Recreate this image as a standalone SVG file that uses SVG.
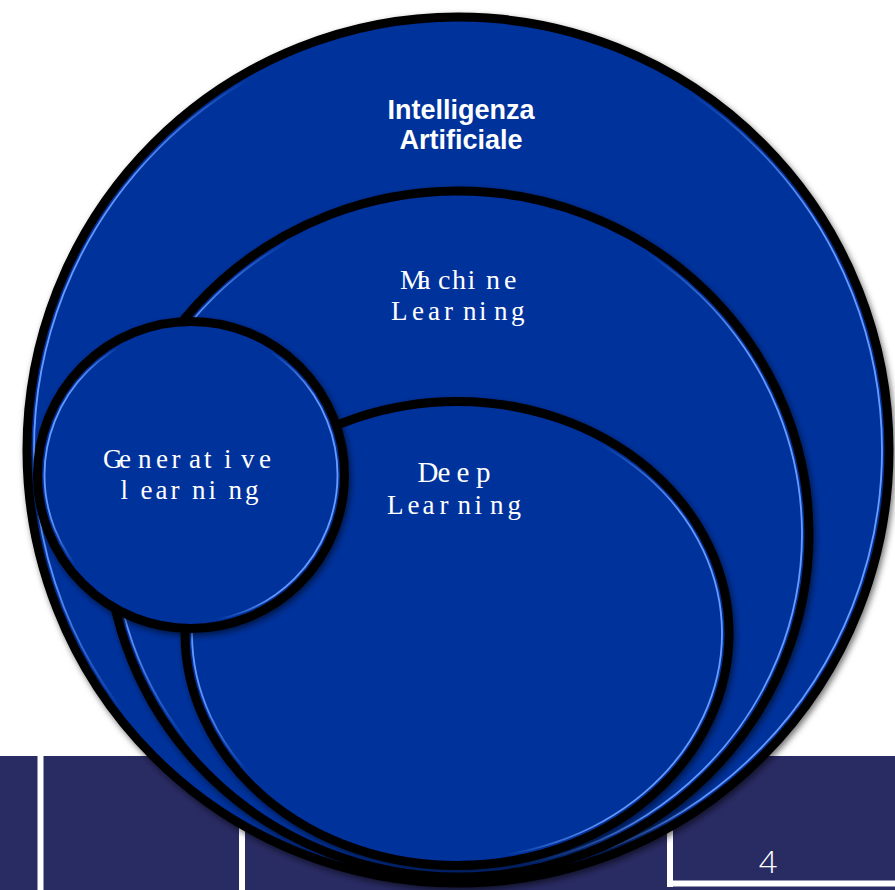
<svg xmlns="http://www.w3.org/2000/svg" width="895" height="890" viewBox="0 0 895 890">
<defs>
<filter id="shadow" x="-10%" y="-10%" width="120%" height="120%">
<feDropShadow dx="2" dy="3" stdDeviation="3" flood-color="#000" flood-opacity="0.55"/>
</filter>
<linearGradient id="hl" x1="0" y1="0.4" x2="1" y2="0.6">
<stop offset="0" stop-color="#6a9bff" stop-opacity="1"/>
<stop offset="0.07" stop-color="#6a9bff" stop-opacity="0.9"/>
<stop offset="0.18" stop-color="#6a9bff" stop-opacity="0"/>
<stop offset="0.68" stop-color="#6a9bff" stop-opacity="0"/>
<stop offset="0.85" stop-color="#6a9bff" stop-opacity="0.95"/>
<stop offset="1" stop-color="#6a9bff" stop-opacity="1"/>
</linearGradient>
</defs>
<style>
.shape{fill:#01309c;stroke:#000;stroke-width:9;filter:url(#shadow)}
.hl{fill:none;stroke:url(#hl);stroke-width:1.8}
.ser{font-family:"Liberation Serif","Times New Roman",serif;fill:#fff}
.sans{font-family:"Liberation Sans",Arial,sans-serif;fill:#fff;font-weight:bold;font-size:27px;text-anchor:middle}
.band{fill:#292b63}
.wl{fill:#fff}
</style>
<g id="background">
<rect x="0" y="0" width="895" height="890" fill="#fff"/>
<rect class="band" x="0" y="756" width="895" height="134"/>
<rect class="wl" x="37.5" y="756" width="6" height="134"/>
<rect class="wl" x="239" y="756" width="6" height="134"/>
<rect class="wl" x="667" y="800" width="6" height="87"/>
<rect class="wl" x="667" y="880.5" width="228" height="6"/>
<text x="768" y="873" font-family="'Open Sans','Liberation Sans',sans-serif" font-weight="300" font-size="32" fill="#fff" text-anchor="middle">4</text>
</g>
<g id="node-ai">
<ellipse class="shape" cx="458" cy="450" rx="431" ry="433"/>
<ellipse class="hl" cx="458" cy="450" rx="424" ry="426"/>
<text class="sans" x="461" y="119">Intelligenza</text>
<text class="sans" x="461" y="149">Artificiale</text>
</g>
<g id="node-ml">
<ellipse class="shape" cx="458" cy="534" rx="351" ry="343"/>
<ellipse class="hl" cx="458" cy="534" rx="344" ry="336"/>
<text class="ser" font-size="28" y="289" x="400 418 438 452 467.5 486 504">Machine</text>
<text class="ser" font-size="27" y="320" x="391 412 428 444 463 479 494 511">Learning</text>
</g>
<g id="node-dl">
<ellipse class="shape" cx="457" cy="633.5" rx="272" ry="232"/>
<ellipse class="hl" cx="457" cy="633.5" rx="265" ry="225"/>
<text class="ser" font-size="29" y="482" x="417.5 437.5 456.5 476">Deep</text>
<text class="ser" font-size="27" y="514" x="387 407.5 422.5 439.5 457.5 474.5 490 507.5">Learning</text>
</g>
<g id="node-gen">
<circle class="shape" cx="191" cy="475" r="153.5"/>
<circle class="hl" cx="191" cy="475" r="146.5"/>
<text class="ser" font-size="27" y="467.5" x="103 119 138 156 171.5 189 204 224 241 259">Generative</text>
<text class="ser" font-size="27" y="499" x="120.5 140.5 155.5 170.5 192 208.5 228.5 245">learning</text>
</g>
<g id="connectors"/>
</svg>
